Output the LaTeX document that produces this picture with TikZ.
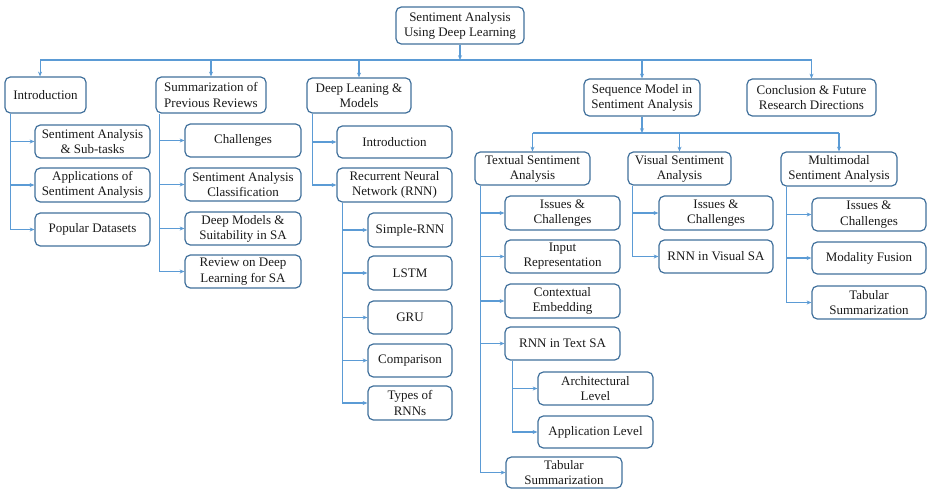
\documentclass[tikz,border=0pt]{standalone}
\usepackage{fontspec}
\setmainfont{Liberation Serif}
\newfontfamily\tnr{Liberation Serif}
\usetikzlibrary{arrows.meta,calc}
\definecolor{boxc}{HTML}{41719C}
\definecolor{linec}{HTML}{5B9BD5}
\definecolor{txtc}{HTML}{1A1A1A}
\tikzset{
  box/.style={draw=boxc, line width=0.9pt, rounded corners=4pt, fill=white,
    align=center, inner sep=0pt, text=txtc,
    font=\tnr\fontsize{9.75}{11.4}\selectfont},
  conn/.style={draw=linec, line width=0.8pt},
  arr/.style={conn, -{Stealth[length=3.6pt,width=3pt]}}
}
\newcommand\bx[6]{\node[box, minimum width={(#4-#2)*0.75pt}, minimum height={(#5-#3)*0.75pt}] (#1) at ({(#2+#4)/2},{(#3+#5)/2}) {#6};}
% trunk: #1 parent, #2 xshift, #3 last child, #4 list of children
\newcommand\trunk[4]{%
  \coordinate (tk-#1) at ([xshift=#2]#1.south west);
  \draw[conn] (tk-#1) -- (tk-#1 |- #3.west);
  \foreach \c in {#4} \draw[arr] (tk-#1 |- \c.west) -- (\c.west);
}
\begin{document}
\begin{tikzpicture}[x=0.75pt,y=-0.75pt]
\useasboundingbox[fill=white] (0,0) rectangle (928,490);
% level 0 and 1
\bx{root}{396}{7}{524}{44}{Sentiment Analysis\\Using Deep Learning}
\bx{intro}{5}{77}{86}{113}{Introduction}
\bx{summ}{156}{77}{266}{113}{Summarization of\\Previous Reviews}
\bx{deep}{307}{78}{411}{113}{Deep Leaning \&\\Models}
\bx{seq}{584}{79}{700}{116}{Sequence Model in\\Sentiment Analysis}
\bx{concl}{747}{79}{876}{116}{Conclusion \& Future\\Research Directions}
% introduction children
\bx{i1}{35}{125}{150}{158}{Sentiment Analysis\\\& Sub-tasks}
\bx{i2}{35}{168}{150}{202}{Applications of\\Sentiment Analysis}
\bx{i3}{35}{213}{150}{246}{Popular Datasets}
% summarization children
\bx{s1}{185}{124}{301}{157}{Challenges}
\bx{s2}{185}{168}{301}{201}{Sentiment Analysis\\Classification}
\bx{s3}{185}{212}{301}{245}{Deep Models \&\\Suitability in SA}
\bx{s4}{185}{255}{301}{288}{Review on Deep\\Learning for SA}
% deep learning children
\bx{d1}{337}{126}{452}{158}{Introduction}
\bx{d2}{337}{168}{452}{202}{Recurrent Neural\\Network (RNN)}
\bx{r1}{368}{213}{452}{247}{Simple-RNN}
\bx{r2}{368}{256}{452}{290}{LSTM}
\bx{r3}{368}{301}{452}{334}{GRU}
\bx{r4}{368}{344}{452}{377}{Comparison}
\bx{r5}{368}{386}{452}{420}{Types of\\RNNs}
% sequence children
\bx{txt}{475}{152}{590}{185}{Textual Sentiment\\Analysis}
\bx{vis}{628}{152}{731}{185}{Visual Sentiment\\Analysis}
\bx{mm}{781}{152}{897}{186}{Multimodal\\Sentiment Analysis}
\bx{t1}{505}{196}{620}{230}{Issues \&\\Challenges}
\bx{t2}{505}{240}{620}{273}{Input\\Representation}
\bx{t3}{505}{284}{620}{318}{Contextual\\Embedding}
\bx{t4}{505}{327}{620}{360}{RNN in Text SA}
\bx{a1}{538}{372}{653}{405}{Architectural\\Level}
\bx{a2}{538}{416}{653}{448}{Application Level}
\bx{t5}{506}{457}{622}{488}{Tabular\\Summarization}
\bx{v1}{659}{196}{773}{230}{Issues \&\\Challenges}
\bx{v2}{659}{240}{773}{273}{RNN in Visual SA}
\bx{m1}{812}{198}{926}{231}{Issues \&\\Challenges}
\bx{m2}{812}{242}{926}{274}{Modality Fusion}
\bx{m3}{812}{286}{926}{319}{Tabular\\Summarization}
% buses
\coordinate (bus0) at (460,60);
\coordinate (bus1) at (640,133);
\coordinate (introtop) at ([xshift=-4.1pt]intro.north);
\draw[arr] (root.south) -- (bus0);
\draw[conn] (bus0 -| introtop) -- (bus0 -| concl.north);
\draw[arr] (introtop |- bus0) -- (introtop);
\foreach \n in {summ,deep,seq,concl}
  \draw[arr] (\n.north |- bus0) -- (\n.north);
\draw[arr] (seq.south) -- (seq.south |- bus1);
\draw[conn] (bus1 -| txt.north) -- (bus1 -| mm.north);
\foreach \n in {txt,vis,mm}
  \draw[arr] (\n.north |- bus1) -- (\n.north);
% trunks
\trunk{intro}{4.5pt}{i3}{i1,i2,i3}
\trunk{summ}{3pt}{s4}{s1,s2,s3,s4}
\trunk{deep}{4.5pt}{d2}{d1,d2}
\trunk{d2}{4.5pt}{r5}{r1,r2,r3,r4,r5}
\trunk{txt}{4.5pt}{t5}{t1,t2,t3,t4,t5}
\trunk{t4}{6pt}{a2}{a1,a2}
\trunk{vis}{3.8pt}{v2}{v1,v2}
\trunk{mm}{4.5pt}{m3}{m1,m2,m3}
\end{tikzpicture}
\end{document}
